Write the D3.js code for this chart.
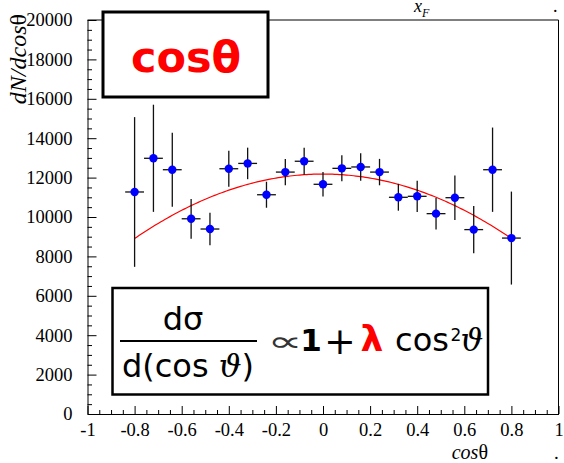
<!DOCTYPE html>
<html>
<head>
<meta charset="utf-8">
<script src="https://cdn.jsdelivr.net/npm/d3@7"></script>
<style>
  html, body { margin: 0; padding: 0; background: #fff; }
  svg { display: block; }
</style>
</head>
<body>
<svg id="chart" width="564" height="463"></svg>
<script>
// Bin centres in cos(theta)
const cosBins = [-0.80, -0.72, -0.64, -0.56, -0.48, -0.40, -0.32, -0.24, -0.16, -0.08,
                 0.00, 0.08, 0.16, 0.24, 0.32, 0.40, 0.48, 0.56, 0.64, 0.72, 0.80];
// Counts per bin, dN/dcos(theta)
const counts = [11270, 12980, 12400, 9910, 9390, 12450, 12720, 11130, 12280, 12830,
                11660, 12470, 12540, 12280, 11000, 11050, 10170, 10980, 9360, 12400, 8930];
// Statistical errors on the counts
const errors = [3800, 2720, 1880, 1010, 820, 910, 800, 660, 670, 680,
                620, 660, 700, 670, 680, 790, 800, 1130, 1200, 2140, 2360];
const binHalfWidth = 0.04;

// Fit A * (1 + lambda cos^2 theta)
const fitNorm = 12180;
const fitLambda = -0.42;
const fitRange = [-0.8, 0.8];

// Axis ticks
const xMajorTicks = [-1, -0.8, -0.6, -0.4, -0.2, 0, 0.2, 0.4, 0.6, 0.8, 1];
const yMajorTicks = [0, 2000, 4000, 6000, 8000, 10000, 12000, 14000, 16000, 18000, 20000];

const svg = d3.select("#chart");
const serif = "'Liberation Serif', 'Times New Roman', serif";
const sans = "'DejaVu Sans', 'Noto Sans', sans-serif";

const x = d3.scaleLinear().domain([-1, 1]).range([87.5, 558.5]);
const y = d3.scaleLinear().domain([0, 20000]).range([414, 20]);

// Frame (top and right)
svg.append("path")
  .attr("d", `M${x(-1)},${y(20000)}H${x(1)}V${y(0)}`)
  .attr("fill", "none").attr("stroke", "#000").attr("stroke-width", 1);

// Left axis: major + minor ticks pointing inward
const yMinor = d3.range(0, 20001, 500).filter(v => v % 2000 !== 0);
svg.append("g").attr("transform", `translate(${x(-1)},0)`)
  .call(d3.axisLeft(y).tickValues(yMinor).tickSize(-4.5).tickSizeOuter(0).tickFormat(""))
  .call(g => g.select(".domain").remove());
const yAxis = svg.append("g").attr("transform", `translate(${x(-1)},0)`)
  .call(d3.axisLeft(y).tickValues(yMajorTicks).tickSize(-9).tickSizeOuter(0)
        .tickPadding(15).tickFormat(d3.format("d")));
yAxis.selectAll("text").attr("font-family", serif).attr("font-size", 18.5).attr("fill", "#000");

// Bottom axis
const xMinor = d3.range(-1, 1.0001, 0.05).filter(v => Math.abs(Math.round(v * 5) - v * 5) > 1e-6);
svg.append("g").attr("transform", `translate(0,${y(0)})`)
  .call(d3.axisBottom(x).tickValues(xMinor).tickSize(-4).tickSizeOuter(0).tickFormat(""))
  .call(g => g.select(".domain").remove());
const xAxis = svg.append("g").attr("transform", `translate(0,${y(0)})`)
  .call(d3.axisBottom(x).tickValues(xMajorTicks).tickSize(-8).tickSizeOuter(0)
        .tickPadding(9).tickFormat(d => String(+d.toFixed(1))));
xAxis.selectAll("text").attr("font-family", serif).attr("font-size", 18.5).attr("fill", "#000");
svg.selectAll(".tick line").attr("stroke", "#000");
svg.selectAll(".domain").attr("stroke", "#000");

// Axis titles
const yTitle = svg.append("text")
  .attr("transform", `translate(26,14) rotate(-90)`)
  .attr("text-anchor", "end")
  .attr("font-family", serif).attr("font-size", 24);
yTitle.append("tspan").attr("font-style", "italic").text("dN/dcos");
yTitle.append("tspan").text("θ");

const xTitle = svg.append("text")
  .attr("x", 488).attr("y", 459).attr("text-anchor", "end")
  .attr("font-family", serif).attr("font-size", 20);
xTitle.append("tspan").attr("font-style", "italic").text("cos");
xTitle.append("tspan").text("θ");
svg.append("text").attr("x", 554).attr("y", 459)
  .attr("font-family", serif).attr("font-size", 19).text(".");

// Top title
const topTitle = svg.append("text").attr("x", 414).attr("y", 12)
  .attr("font-family", serif).attr("font-size", 18).attr("font-style", "italic");
topTitle.append("tspan").text("x");
topTitle.append("tspan").attr("font-size", 12).attr("dy", 5).text("F");
svg.append("text").attr("x", 553).attr("y", 12)
  .attr("font-family", serif).attr("font-size", 18).text(".");

// Fit curve
const fitX = d3.range(fitRange[0], fitRange[1] + 1e-9, 0.01);
svg.append("path")
  .datum(fitX)
  .attr("d", d3.line().x(d => x(d)).y(d => y(fitNorm * (1 + fitLambda * d * d))))
  .attr("fill", "none").attr("stroke", "#ff0000").attr("stroke-width", 1.2);

// Data with error bars
const data = cosBins.map((c, i) => ({ c, n: counts[i], e: errors[i] }));
const pts = svg.append("g").selectAll("g").data(data).join("g");
pts.append("line")
  .attr("x1", d => x(d.c)).attr("x2", d => x(d.c))
  .attr("y1", d => y(d.n - d.e)).attr("y2", d => y(d.n + d.e))
  .attr("stroke", "#111").attr("stroke-width", 1.3);
pts.append("line")
  .attr("x1", d => x(d.c - binHalfWidth)).attr("x2", d => x(d.c + binHalfWidth))
  .attr("y1", d => y(d.n)).attr("y2", d => y(d.n))
  .attr("stroke", "#111").attr("stroke-width", 1.3);
pts.append("circle")
  .attr("cx", d => x(d.c)).attr("cy", d => y(d.n)).attr("r", 4.2)
  .attr("fill", "#0000ff");

// Label box: cos(theta)
svg.append("rect").attr("x", 103).attr("y", 12).attr("width", 165).attr("height", 85)
  .attr("fill", "#fff").attr("stroke", "#000").attr("stroke-width", 3);
svg.append("text").attr("x", 186).attr("y", 72).attr("text-anchor", "middle")
  .attr("font-family", sans).attr("font-weight", "bold").attr("font-size", 43)
  .attr("fill", "#ff0000").text("cosθ");

// Formula box
svg.append("rect").attr("x", 112.5).attr("y", 288).attr("width", 375.5).attr("height", 106.5)
  .attr("fill", "#fff").attr("stroke", "#000").attr("stroke-width", 2.5);
const fsz = 32;
const theta = "'DejaVu Serif', serif";
svg.append("text").attr("x", 183).attr("y", 330).attr("text-anchor", "middle")
  .attr("font-family", sans).attr("font-size", fsz).text("dσ");
svg.append("line").attr("x1", 120).attr("x2", 257).attr("y1", 341).attr("y2", 341)
  .attr("stroke", "#000").attr("stroke-width", 2.2);
const den = svg.append("text").attr("x", 188).attr("y", 377).attr("text-anchor", "middle")
  .attr("font-family", sans).attr("font-size", fsz);
den.append("tspan").text("d(cos");
den.append("tspan").attr("font-family", theta).attr("font-style", "italic").text(" ϑ");
den.append("tspan").text(")");
// proportional-to sign, stretched horizontally
svg.append("text").attr("transform", "translate(285,351) scale(1.75,1)")
  .attr("text-anchor", "middle")
  .attr("font-family", sans).attr("font-size", 28).attr("fill", "#333").text("∝");
svg.append("text").attr("x", 311).attr("y", 351).attr("text-anchor", "middle")
  .attr("font-family", sans).attr("font-weight", "bold").attr("font-size", 31).text("1");
svg.append("text").attr("x", 340).attr("y", 354).attr("text-anchor", "middle")
  .attr("font-family", theta).attr("font-size", 38).text("+");
svg.append("text").attr("x", 372).attr("y", 351).attr("text-anchor", "middle")
  .attr("font-family", sans).attr("font-weight", "bold").attr("font-size", 36)
  .attr("fill", "#ff0000").text("λ");
svg.append("text").attr("x", 422).attr("y", 351).attr("text-anchor", "middle")
  .attr("font-family", sans).attr("font-size", fsz).text("cos");
svg.append("text").attr("x", 456).attr("y", 341).attr("text-anchor", "middle")
  .attr("font-family", sans).attr("font-size", 17).text("2");
svg.append("text").attr("x", 472).attr("y", 351).attr("text-anchor", "middle")
  .attr("font-family", theta).attr("font-style", "italic").attr("font-size", fsz).text("ϑ");
</script>
</body>
</html>
